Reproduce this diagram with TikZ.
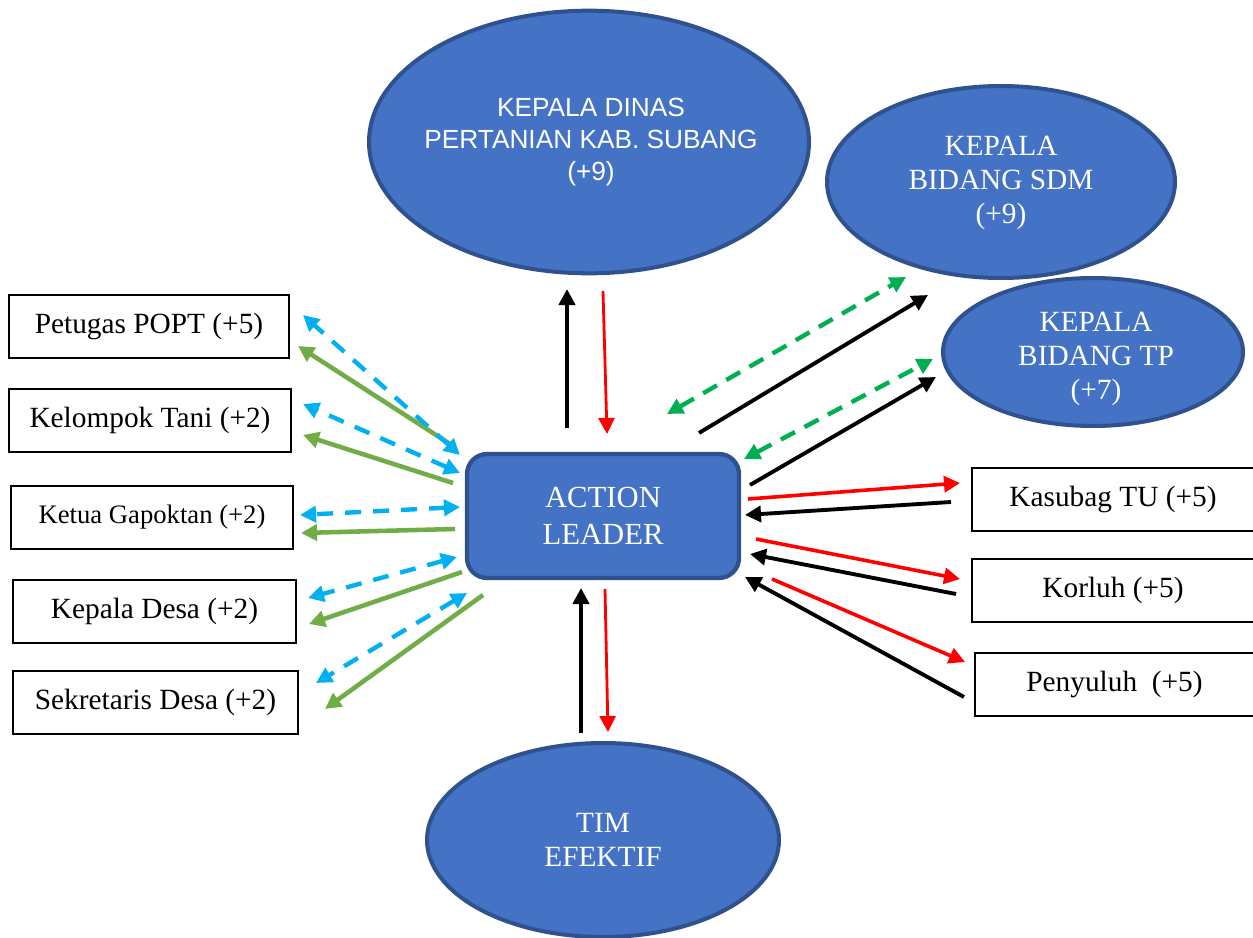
\documentclass[tikz,border=0pt]{standalone}
\usepackage{fontspec}
\setmainfont{Liberation Serif}
\newfontfamily\arialf{Liberation Sans}
\usetikzlibrary{arrows.meta,shapes.geometric}
\definecolor{fillblue}{HTML}{4472C4}
\definecolor{edgeblue}{HTML}{2F528F}
\definecolor{cyanarrow}{HTML}{00B0F0}
\definecolor{greenarrow}{HTML}{70AD47}
\definecolor{greendash}{HTML}{00B050}
\definecolor{redarrow}{HTML}{FF0000}
\begin{document}
\begin{tikzpicture}[x=0.75pt,y=-0.75pt,
  ellnode/.style={ellipse, fill=fillblue, draw=edgeblue, line width=3pt, text=white, align=center, inner sep=0pt},
  ltext/.style={text=white, align=center, inner sep=0pt},
  leadnode/.style={rectangle, rounded corners=15pt, fill=fillblue, draw=edgeblue, line width=3.2pt, text=white, align=center, inner sep=0pt},
  boxnode/.style={rectangle, draw=black, line width=0.9pt, fill=white, inner sep=0pt, minimum height=47.25pt, font=\fontsize{22}{26}\selectfont},
  headA/.style={-{Triangle[length=12pt,width=12pt]}},
  headAB/.style={{Triangle[length=12pt,width=12pt]}-{Triangle[length=12pt,width=12pt]}},
  bluedash/.style={headAB, draw=cyanarrow, line width=3.3pt, dash pattern=on 12pt off 9pt},
  greenline/.style={headA, draw=greenarrow, line width=3.4pt},
  greendashed/.style={headAB, draw=greendash, line width=3.3pt, dash pattern=on 12pt off 8pt},
  blackline/.style={headA, draw=black, line width=2.9pt},
  redline/.style={headA, draw=redarrow, line width=2.7pt},
  redthin/.style={headA, draw=redarrow, line width=2.1pt},
]
\fill[white] (0,0) rectangle (1253,938);
\useasboundingbox (0,0) rectangle (1253,938);

% ellipses
\node[ellnode, minimum width=330pt, minimum height=197pt] (dinas) at (589,142) {};
\node[ltext, font=\arialf\fontsize{19.7}{24}\selectfont] (dinastext) at (591,142) {KEPALA DINAS\\PERTANIAN KAB. SUBANG\\(+9)};
\node[ellnode, minimum width=261pt, minimum height=144pt] (sdm) at (1001,182) {};
\node[ltext, font=\fontsize{22}{25.5}\selectfont] (sdmtext) at (1001,183) {KEPALA\\BIDANG SDM\\(+9)};
\node[ellnode, minimum width=225pt, minimum height=111pt] (tp) at (1093,352) {};
\node[ltext, font=\fontsize{22}{25.5}\selectfont] (tptext) at (1096,359) {KEPALA\\BIDANG TP\\(+7)};
\node[ellnode, minimum width=264pt, minimum height=145.5pt, font=\fontsize{22}{25}\selectfont] (tim) at (603,840) {TIM\\EFEKTIF};

% action leader
\node[leadnode, minimum width=204pt, minimum height=93pt, font=\fontsize{23}{27.75}\selectfont] (lead) at (603,516) {ACTION\\LEADER};

% left boxes
\node[boxnode, minimum width=210pt] (popt) at (149,326.5) {Petugas POPT (+5)};
\node[boxnode, minimum width=211.5pt] (tani) at (150,420.5) {Kelompok Tani (+2)};
\node[boxnode, minimum width=211.5pt, font=\fontsize{20}{24}\selectfont] (gapok) at (152,517.5) {Ketua Gapoktan (+2)};
\node[boxnode, minimum width=212.25pt] (kades) at (154.5,611.5) {Kepala Desa (+2)};
\node[boxnode, minimum width=213.75pt] (sekdes) at (155.5,702.5) {Sekretaris Desa (+2)};

% right boxes
\node[boxnode, minimum width=211.5pt] (kasubag) at (1113,499.5) {Kasubag TU (+5)};
\node[boxnode, minimum width=211.5pt] (korluh) at (1113,590.5) {Korluh (+5)};
\node[boxnode, minimum width=209.25pt] (penyuluh) at (1114.5,684.5) {Penyuluh\ \ (+5)};

% arrow end points
\coordinate (bd1a) at (460,455); \coordinate (bd1b) at (303,315);
\coordinate (gl1a) at (450,444); \coordinate (gl1b) at (298,346);
\coordinate (bd2a) at (460,473); \coordinate (bd2b) at (303,404);
\coordinate (gl2a) at (453,483); \coordinate (gl2b) at (303,435);
\coordinate (bd3a) at (460,507); \coordinate (bd3b) at (300,515);
\coordinate (gl3a) at (455,529); \coordinate (gl3b) at (301,533);
\coordinate (bd4a) at (457,557); \coordinate (bd4b) at (308,598);
\coordinate (gl4a) at (462,572); \coordinate (gl4b) at (309,624);
\coordinate (bd5a) at (467,593); \coordinate (bd5b) at (316,683);
\coordinate (gl5a) at (483,595); \coordinate (gl5b) at (325,709);

\coordinate (gd1a) at (667,414); \coordinate (gd1b) at (906,277);
\coordinate (bk1a) at (699,433); \coordinate (bk1b) at (928,295);
\coordinate (gd2a) at (744,459); \coordinate (gd2b) at (933,359);
\coordinate (bk2a) at (750,485); \coordinate (bk2b) at (936,377);
\coordinate (rd1a) at (748,499); \coordinate (rd1b) at (960,483);
\coordinate (bk3a) at (951,502); \coordinate (bk3b) at (745,515);
\coordinate (rd2a) at (756,539); \coordinate (rd2b) at (960,579);
\coordinate (bk4a) at (956,594); \coordinate (bk4b) at (750,554);
\coordinate (rd3a) at (772,579); \coordinate (rd3b) at (965,662);
\coordinate (bk5a) at (964,697); \coordinate (bk5b) at (745,577);

\coordinate (bk6a) at (567,428); \coordinate (bk6b) at (567,289);
\coordinate (rd4a) at (603,291); \coordinate (rd4b) at (607,434);
\coordinate (bk7a) at (581,733); \coordinate (bk7b) at (581,588);
\coordinate (rd5a) at (605,589); \coordinate (rd5b) at (608,732);

% left arrows
\draw[greenline] (gl1a) -- (gl1b);
\draw[bluedash] (bd1a) -- (bd1b);
\draw[bluedash] (bd2a) -- (bd2b);
\draw[greenline] (gl2a) -- (gl2b);
\draw[bluedash] (bd3a) -- (bd3b);
\draw[greenline] (gl3a) -- (gl3b);
\draw[bluedash] (bd4a) -- (bd4b);
\draw[greenline] (gl4a) -- (gl4b);
\draw[bluedash] (bd5a) -- (bd5b);
\draw[greenline] (gl5a) -- (gl5b);

% right arrows
\draw[greendashed] (gd1a) -- (gd1b);
\draw[blackline] (bk1a) -- (bk1b);
\draw[greendashed] (gd2a) -- (gd2b);
\draw[blackline] (bk2a) -- (bk2b);
\draw[redline] (rd1a) -- (rd1b);
\draw[blackline] (bk3a) -- (bk3b);
\draw[redline] (rd2a) -- (rd2b);
\draw[blackline] (bk4a) -- (bk4b);
\draw[redline] (rd3a) -- (rd3b);
\draw[blackline] (bk5a) -- (bk5b);

% vertical arrows
\draw[blackline, line width=3.2pt] (bk6a) -- (bk6b);
\draw[redthin] (rd4a) -- (rd4b);
\draw[blackline, line width=3.2pt] (bk7a) -- (bk7b);
\draw[redthin] (rd5a) -- (rd5b);
\end{tikzpicture}
\end{document}
